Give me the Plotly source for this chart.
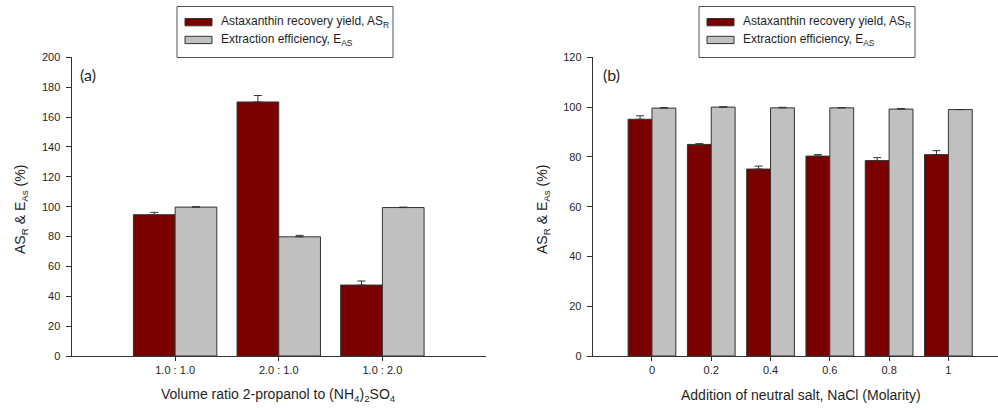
import plotly.graph_objects as go

# Panel (a): phase volume ratio
ratio_labels = ["1.0 : 1.0", "2.0 : 1.0", "1.0 : 2.0"]
ratio_recovery = [94.6, 170.1, 47.5]
ratio_recovery_err = [1.6, 4.3, 2.7]
ratio_efficiency = [99.7, 79.8, 99.4]
ratio_efficiency_err = [0.2, 1.0, 0.3]

# Panel (b): NaCl addition
nacl_molarity = [0.0, 0.2, 0.4, 0.6, 0.8, 1.0]
nacl_labels = ["0", "0.2", "0.4", "0.6", "0.8", "1"]
nacl_recovery = [95.1, 85.0, 75.1, 80.3, 78.5, 80.9]
nacl_recovery_err = [1.4, 0.3, 1.2, 0.6, 1.2, 1.6]
nacl_efficiency = [99.6, 100.0, 99.7, 99.7, 99.2, 99.0]
nacl_efficiency_err = [0.2, 0.1, 0.2, 0.1, 0.2, 0.0]

series_names = ["Astaxanthin recovery yield, AS<sub>R</sub>",
                "Extraction efficiency, E<sub>AS</sub>"]

W, H = 998, 410
DARK = "#7a0000"
GREY = "#c0c0c0"
EDGE = "#333333"
TEXT = "#1f1f1f"
FONT = "Arial"


def fx(p):
    return p / W


def fy(p):
    return 1 - p / H


def bar(x, y, err, color, name, xa, ya):
    return go.Bar(
        x=x, y=y, name=name, xaxis=xa, yaxis=ya, showlegend=False,
        marker=dict(color=color, line=dict(color=EDGE, width=1)),
        error_y=dict(type="data", array=err, arrayminus=[0] * len(err),
                     symmetric=False, color=EDGE, thickness=1, width=4),
    )


fig = go.Figure()
fig.add_trace(bar(ratio_labels, ratio_recovery, ratio_recovery_err, DARK, series_names[0], "x", "y"))
fig.add_trace(bar(ratio_labels, ratio_efficiency, ratio_efficiency_err, GREY, series_names[1], "x", "y"))
fig.add_trace(bar(nacl_molarity, nacl_recovery, nacl_recovery_err, DARK, series_names[0], "x2", "y2"))
fig.add_trace(bar(nacl_molarity, nacl_efficiency, nacl_efficiency_err, GREY, series_names[1], "x2", "y2"))

axis_common = dict(
    showline=True, linecolor=EDGE, linewidth=1, ticks="outside",
    ticklen=5, tickcolor=EDGE, tickwidth=1, showgrid=False, zeroline=False,
    tickfont=dict(family=FONT, size=11, color=TEXT), fixedrange=True,
    automargin=False,
)
ydom = [fy(356), fy(57.3)]

fig.update_layout(
    template="none",
    width=W, height=H, margin=dict(l=0, r=0, t=0, b=0, pad=0, autoexpand=False),
    paper_bgcolor="white", plot_bgcolor="white",
    font=dict(family=FONT, color=TEXT),
    barmode="group", bargap=0.195, bargroupgap=0,
    xaxis=dict(axis_common, domain=[fx(71.5), fx(486)], type="category",
               range=[-1, 3], ticklen=4),
    yaxis=dict(axis_common, domain=ydom, range=[0, 200], dtick=20,
               anchor="x", ticklabelstandoff=3),
    xaxis2=dict(axis_common, domain=[fx(592.7), 1.0], range=[-0.2, 1.1674],
                tickvals=nacl_molarity, ticktext=nacl_labels, anchor="y2", ticklen=4),
    yaxis2=dict(axis_common, domain=ydom, range=[0, 120], dtick=20,
                anchor="x2", ticklabelstandoff=3),
)

annotations = []
shapes = []


def text(x, y, s, size, anchor="center", angle=0, family=FONT):
    annotations.append(dict(
        x=fx(x), y=fy(y), xref="paper", yref="paper", text=s, showarrow=False,
        xanchor=anchor, yanchor="middle", textangle=angle,
        font=dict(family=family, size=size, color=TEXT),
    ))


# axis titles
ytitle = "AS<sub>R</sub> & E<sub>As</sub> (%)"
text(21, 210, ytitle, 14, angle=-90)
text(543, 210, ytitle, 14, angle=-90)
text(278.5, 395, "Volume ratio 2-propanol to (NH<sub>4</sub>)<sub>2</sub>SO<sub>4</sub>", 14)
text(800.7, 395, "Addition of neutral salt, NaCl (Molarity)", 14)

# panel tags
text(88, 75, "(a)", 16, family="Lato")
text(611, 75, "(b)", 16, family="Lato")

# legend boxes, one per panel
for dx in (0, 522):
    shapes.append(dict(type="rect", xref="paper", yref="paper",
                       x0=fx(177 + dx), x1=fx(393 + dx), y0=fy(57.5), y1=fy(6.5),
                       line=dict(color="#555555", width=1), fillcolor="white"))
    for i, (col, name) in enumerate(zip([DARK, GREY], series_names)):
        top = 18.5 + 17.8 * i
        shapes.append(dict(type="rect", xref="paper", yref="paper",
                           x0=fx(185 + dx), x1=fx(212 + dx), y0=fy(top + 7.3), y1=fy(top),
                           line=dict(color=EDGE, width=1), fillcolor=col))
        text(218.5 + dx, top + 3.8, name, 12, anchor="left")

fig.update_layout(annotations=annotations, shapes=shapes)
fig.write_html("out.html")
